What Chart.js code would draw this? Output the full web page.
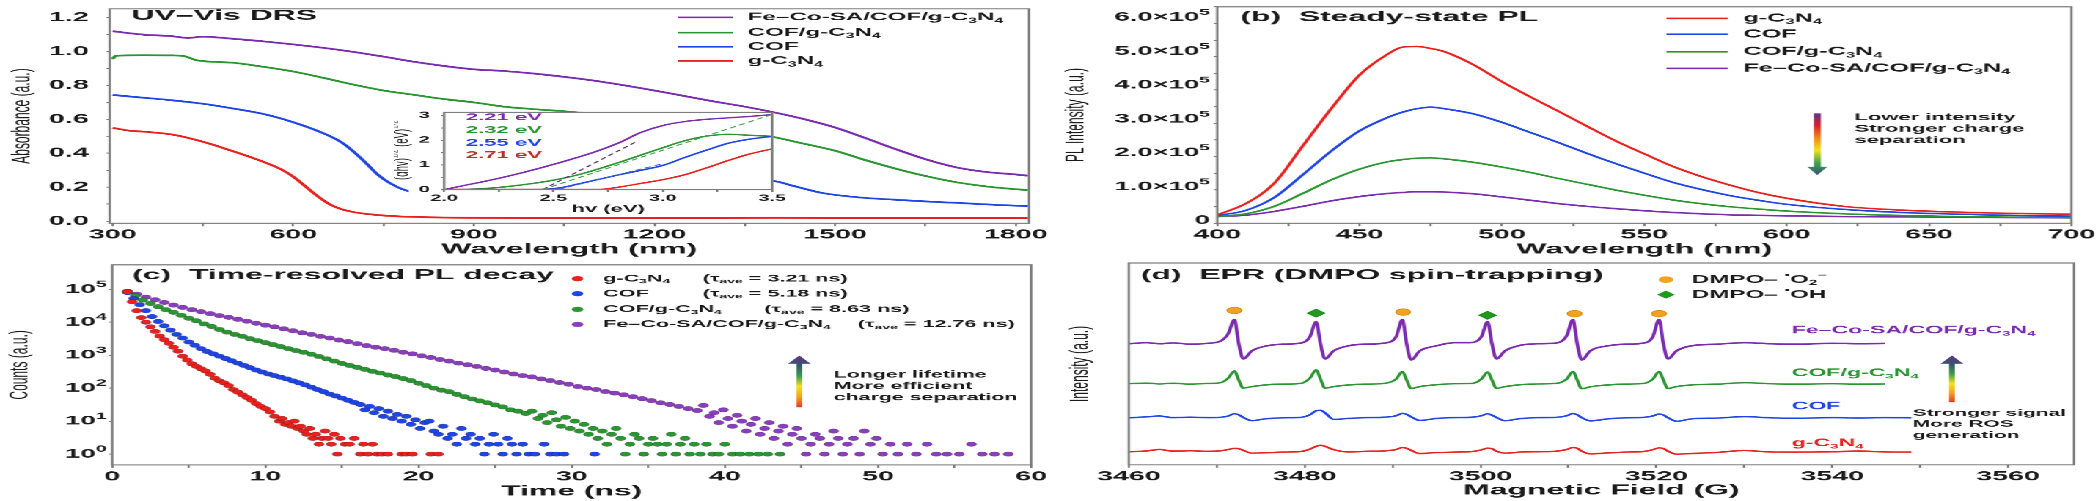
<!DOCTYPE html>
<html lang="en">
<head>
<meta charset="UTF-8">
<title>Fe-Co-SA/COF/g-C3N4 optical and EPR characterisation</title>
<script src="https://cdn.jsdelivr.net/npm/chart.js@4"></script>
<style>
  html, body { margin: 0; background: #fff; overflow: hidden; }
  /* the original figure is stretched horizontally, so draw narrow and stretch */
  #wrap { position: absolute; left: 0; top: 0; width: 955px; height: 501px; transform: scaleX(2.2); transform-origin: 0 0; }
  #wrap canvas { position: absolute; }
</style>
</head>
<body>
<div id="wrap">
  <canvas id="uvChart"></canvas>
  <canvas id="insetChart"></canvas>
  <canvas id="plChart"></canvas>
  <canvas id="trplChart"></canvas>
  <canvas id="eprChart"></canvas>
</div>
<script>
// ---- samples ----
const sampleNames = ['g-C_{3}N_{4}', 'COF', 'COF/g-C_{3}N_{4}', 'Fe–Co-SA/COF/g-C_{3}N_{4}'];
const tauAve = [3.21, 5.18, 8.63, 12.76];
const bandGaps = ['2.21', '2.32', '2.55', '2.71'];   // purple, green, blue, red

// ---- (a) UV-Vis DRS ----
const uvRedWl = [300,330,350,400,450,500,550,580,600,620,640,660,680,700,720,750,780,850,900,1000,1200,1400,1600,1820];
const uvRed = [0.55,0.532,0.528,0.51,0.468,0.412,0.35,0.305,0.262,0.205,0.148,0.1,0.07,0.053,0.043,0.033,0.027,0.021,0.019,0.018,0.018,0.019,0.018,0.018];
const uvBlueWl = [300,350,400,450,500,550,600,650,680,700,720,740,760,780,800,850,950,1050,1150,1250,1350,1395,1430,1480,1540,1600,1650,1700,1760,1820];
const uvBlue = [0.744,0.728,0.712,0.692,0.664,0.632,0.583,0.518,0.465,0.41,0.345,0.275,0.225,0.19,0.17,0.16,0.165,0.18,0.2,0.22,0.235,0.237,0.208,0.165,0.14,0.126,0.116,0.108,0.097,0.088];
const uvGreenWl = [300,305,350,400,420,440,500,550,600,650,700,750,800,850,900,950,1000,1050,1100,1200,1300,1395,1450,1500,1550,1600,1650,1700,1750,1800,1820];
const uvGreen = [0.955,0.975,0.978,0.977,0.972,0.948,0.934,0.91,0.882,0.845,0.805,0.77,0.745,0.72,0.70,0.675,0.66,0.648,0.632,0.6,0.56,0.498,0.455,0.415,0.36,0.31,0.266,0.23,0.205,0.188,0.183];
const uvPurpleWl = [300,350,400,425,450,500,550,600,650,700,750,800,850,900,950,1000,1100,1200,1300,1350,1400,1450,1500,1550,1600,1650,1700,1750,1800,1820];
const uvPurple = [1.12,1.10,1.09,1.08,1.088,1.075,1.06,1.042,1.022,0.998,0.97,0.94,0.915,0.895,0.885,0.87,0.828,0.77,0.705,0.675,0.64,0.60,0.552,0.49,0.425,0.365,0.318,0.29,0.275,0.268];

// inset: Tauc plot
const tcPurpleE = [2.0,2.1,2.2,2.3,2.4,2.5,2.6,2.7,2.8,2.9,3.0,3.1,3.2,3.3,3.4,3.5];
const tcPurple = [0,0.18,0.36,0.56,0.78,1.02,1.28,1.56,1.9,2.32,2.6,2.76,2.85,2.91,2.97,3.04];
const tcGreenE = [2.0,2.1,2.2,2.3,2.4,2.5,2.6,2.7,2.8,2.9,3.0,3.1,3.2,3.3,3.4,3.5];
const tcGreen = [0,0.01,0.05,0.13,0.24,0.38,0.57,0.82,1.1,1.4,1.7,1.98,2.17,2.24,2.2,2.16];
const tcBlueE = [2.0,2.3,2.45,2.55,2.6,2.7,2.8,2.9,3.0,3.1,3.2,3.3,3.4,3.5];
const tcBlue = [0,0,0.01,0.1,0.2,0.4,0.6,0.78,0.98,1.3,1.6,1.88,2.05,2.16];
const tcRedE = [2.0,2.7,2.8,2.9,3.0,3.1,3.2,3.3,3.4,3.5];
const tcRed = [0,0,0.1,0.25,0.4,0.6,0.88,1.18,1.45,1.65];
const tanPurpleE = [2.45, 2.88], tanPurple = [0, 1.95];
const tanGreenE = [2.45, 3.5], tanGreen = [0, 3.05];
const tanBlueE = [2.52, 3.0], tanBlue = [0, 1.05];

// ---- (b) steady-state PL ----
const plWl = [400,410,420,430,440,450,460,465,470,475,480,490,500,510,520,530,540,550,560,570,580,590,600,620,640,660,680,700];
const plRed = [0.17e5,0.5e5,1.1e5,2.2e5,3.3e5,4.3e5,4.92e5,5.12e5,5.14e5,5.08e5,4.98e5,4.6e5,4.1e5,3.65e5,3.22e5,2.78e5,2.35e5,1.97e5,1.6e5,1.3e5,1.05e5,0.83e5,0.66e5,0.42e5,0.31e5,0.25e5,0.21e5,0.19e5];
const plBlue = [0.15e5,0.3e5,0.68e5,1.35e5,2.05e5,2.65e5,3.05e5,3.2e5,3.3e5,3.35e5,3.3e5,3.15e5,2.9e5,2.6e5,2.3e5,1.98e5,1.68e5,1.4e5,1.13e5,0.92e5,0.74e5,0.6e5,0.48e5,0.33e5,0.24e5,0.19e5,0.15e5,0.13e5];
const plGreen = [0.12e5,0.2e5,0.42e5,0.8e5,1.2e5,1.52e5,1.74e5,1.8e5,1.84e5,1.85e5,1.82e5,1.72e5,1.58e5,1.42e5,1.24e5,1.07e5,0.9e5,0.75e5,0.61e5,0.5e5,0.41e5,0.34e5,0.28e5,0.2e5,0.15e5,0.12e5,0.1e5,0.09e5];
const plPurple = [0.12e5,0.16e5,0.27e5,0.42e5,0.58e5,0.71e5,0.8e5,0.83e5,0.85e5,0.85e5,0.84e5,0.79e5,0.7e5,0.6e5,0.5e5,0.42e5,0.35e5,0.29e5,0.24e5,0.2e5,0.17e5,0.155e5,0.14e5,0.12e5,0.11e5,0.1e5,0.09e5,0.08e5];
const plTickVals = [0, 1e5, 2e5, 3e5, 4e5, 5e5, 6e5];

// ---- (c) time-resolved PL decay ----
const trRedT = [1.0,1.3,1.6,1.9,2.2,2.5,2.8,3.1,3.4,3.7,4.0,4.3,4.6,4.9,5.2,5.5,5.8,6.1,6.4,6.7,7.0,7.3,7.6,7.9,8.2,8.5,8.8,9.1,9.4,9.7,10.0,10.3,
  10.6,10.9,11.1,11.3,11.5,11.7,11.9,12.1,12.3,12.5,12.7,12.9,13.1,13.3,13.5,13.7,13.9,14.1,14.3,14.5,14.7,14.9,15.2,15.5,15.8,16.2,16.4,16.7,17.0,17.3,17.6,18.0,18.9,19.2,19.6,20.8,21.3];
const trRedN = [83000,41700,22400,13800,10000,7240,5250,3800,2950,2290,1740,1320,930,710,550,457,389,331,263,200,166,145,120,91,76,63,52,43,34,28,24,19,
  14,10,12,8,9,7,10,6,7,5,4,6,3,4,2,3,5,3,2,4,1,3,2,2,3,1,2,1,2,1,1,1,1,1,1,1,1];
const trBlueT = [1.0,1.4,1.8,2.2,2.6,3.0,3.4,3.8,4.2,4.6,5.0,5.4,5.8,6.2,6.6,7.0,7.4,7.8,8.2,8.6,9.0,9.4,9.8,10.2,10.6,11.0,11.4,11.8,12.2,12.6,13.0,13.4,13.8,14.2,14.6,15.0,15.4,15.8,16.2,
  16.5,16.8,17.1,17.4,17.7,18.0,18.3,18.6,18.9,19.2,19.5,19.8,20.1,20.4,20.7,21.0,21.3,21.6,21.9,22.2,22.5,22.8,23.1,23.4,23.7,24.0,24.3,24.6,24.9,25.2,25.5,25.8,26.1,26.4,26.8,27.2,27.6,28.2,28.6,29.0,29.5,31.5];
const trBlueN = [79400,52500,33900,22400,14800,10500,7760,5750,4270,3310,2510,2000,1580,1290,1100,933,794,676,575,490,417,355,309,269,240,214,191,166,145,126,107,91,78,66,58,50,43,37,32,
  22,28,18,24,14,20,12,16,10,14,8,11,6,9,10,5,4,7,3,4,2,6,3,4,2,3,1,2,4,2,1,3,2,1,2,1,1,2,1,1,1,1];
const trGreenT = [1.0,1.5,2.0,2.5,3.0,3.5,4.0,4.5,5.0,5.5,6.0,6.5,7.0,7.5,8.0,8.5,9.0,9.5,10.0,10.5,11.0,11.5,12.0,12.5,13.0,13.5,14.0,14.5,15.0,15.5,16.0,16.5,17.0,17.5,18.0,18.5,19.0,19.5,20.0,20.5,21.0,21.5,22.0,22.5,23.0,23.5,24.0,24.5,25.0,25.5,26.0,26.5,27.0,
  27.4,27.8,28.1,28.4,28.7,29.0,29.3,29.6,29.9,30.2,30.5,30.8,31.1,31.4,31.7,32.0,32.3,32.6,32.9,33.2,33.5,33.8,34.1,34.4,34.7,35.0,35.3,35.6,35.9,36.2,36.5,36.8,37.1,37.4,37.7,38.0,38.4,38.8,39.2,39.6,40.0,40.5,41.0,41.6,42.2,42.8,43.6];
const trGreenN = [83200,63100,46800,37200,29500,24000,20000,16200,13200,11000,8910,7410,6030,5010,4270,3720,3160,2750,2400,2090,1820,1580,1380,1230,1070,912,776,661,562,490,427,372,324,288,251,224,195,170,141,120,100,87,78,65,55,47,41,36,31,27,22,20,17,
  20,12,15,9,18,11,7,13,6,10,5,8,4,6,3,5,2,4,6,3,1,2,4,3,1,2,3,2,1,2,4,1,2,3,1,2,1,2,1,1,2,1,1,1,1,1,1];
const trPurpleT = [1.0,1.6,2.2,2.8,3.4,4.0,4.6,5.2,5.8,6.4,7.0,7.6,8.2,8.8,9.4,10.0,10.6,11.2,11.8,12.4,13.0,13.6,14.2,14.8,15.4,16.0,16.6,17.2,17.8,18.4,19.0,19.6,20.2,20.8,21.4,22.0,22.6,23.2,23.8,24.4,25.0,25.6,26.2,26.8,27.4,28.0,28.6,29.2,29.8,30.4,31.0,31.6,32.2,32.8,33.4,34.0,34.6,35.2,35.8,36.4,37.0,37.6,38.2,
  38.6,39.0,39.3,39.6,39.9,40.2,40.5,40.8,41.1,41.4,41.7,42.0,42.3,42.6,42.9,43.2,43.5,43.8,44.1,44.4,44.7,45.0,45.3,45.6,45.9,46.2,46.5,46.8,47.1,47.4,47.7,48.0,48.4,48.8,49.1,49.5,49.9,50.3,50.8,51.3,51.9,52.5,53.2,53.8,54.5,55.3,56.1,56.8,57.6,58.5];
const trPurpleN = [87100,70800,57500,47900,39800,33100,28200,24000,20900,18200,15800,14100,12300,10700,9330,8130,7240,6310,5500,4790,4270,3720,3310,2880,2570,2240,1950,1740,1580,1410,1230,1100,955,851,741,661,575,513,457,398,355,309,269,240,219,191,170,148,132,112,100,91,79,71,63,55,48,42,36,32,28,24,21,
  30,14,18,9,22,12,7,15,10,5,8,12,4,6,9,3,5,7,2,4,6,3,1,2,4,3,1,2,5,3,1,2,3,1,5,2,3,1,2,1,2,1,2,1,1,1,2,1,1,1];
const trDecades = [0, 1, 2, 3, 4, 5];

// ---- (d) EPR, stacked spectra (offset intensity) ----
const eprField = [3460,3462,3463.5,3465,3467,3469,3470.5,3471.3,3472.0,3472.5,3473.0,3474.0,3475.5,3477.5,3479.5,3480.6,3481.3,3481.8,3482.3,3483.3,3485,3487,3489,3490.4,3491.1,3491.6,3492.1,3493.1,3495,3497,3499,3500.1,3500.8,3501.3,3501.8,3502.8,3504.5,3506.5,3508.5,3509.8,3510.5,3511.0,3511.5,3512.5,3514.5,3516.5,3518.5,3519.6,3520.3,3520.8,3521.3,3522.3,3524,3527,3530,3533,3536,3540,3543,3546,3549];
const eprPurple = [60,60.5,60,60.4,59.8,60.2,61.5,65,72,60,52.5,56.5,58.8,59.8,60.3,63.5,71,60,52.5,56.5,59,59.8,60.3,63.5,72,60,52,56.5,59,60.5,60.6,63.5,71,60,52.5,56.5,59.2,60,60.3,64,72,60,52,56.5,59,59.8,60.3,63.5,72,60,52.5,56.5,59,59.8,60.5,60,59.8,60.2,60,60.1,null];
const eprGreen = [40.2,40.5,40.1,40.4,40,40.3,40.8,43,46.5,42,38,38.8,39.6,40,40.3,43,47,42.5,38,38.8,39.6,40,40.3,42.5,46.2,42,37.8,38.8,39.7,40.2,40.3,42.5,46,42,37.9,38.8,39.7,40.1,40.3,42.5,46.3,42,37.7,38.7,39.6,40,40.3,42.5,46.2,42,37.8,38.8,39.6,40,40.7,40.2,40,40.2,40,40.1,null];
const eprBlue = [23.3,23.8,24.2,23.4,23.6,23.4,23.6,24.2,25.3,24.8,23.5,21.9,22.8,23.3,23.5,24.8,26.8,27.0,25.8,22.5,23.0,23.4,23.6,24.3,25.5,25.0,23.8,22.0,23.0,23.4,23.6,24.3,25.3,24.6,23.5,21.9,22.9,23.4,23.5,24.3,25.4,24.8,23.4,21.8,22.8,23.3,23.5,24.2,25.2,24.7,23.4,21.6,22.8,23.2,23.9,23.3,23.1,23.4,23.2,23.4,23.3];
const eprRed = [6.5,6.9,7.6,6.8,7.0,6.7,7.0,7.6,8.2,8.0,7.2,5.8,6.0,6.3,6.6,7.8,9.2,9.7,9.2,7.5,6.4,6.7,6.9,7.6,8.6,8.2,7.2,5.6,6.1,6.3,6.6,7.4,8.3,8.0,6.8,5.8,6.3,6.5,6.7,7.6,8.6,8.2,6.8,5.4,5.9,6.3,6.6,7.5,8.4,8.1,6.8,5.3,5.6,6.2,7.1,6.4,6.3,6.5,6.8,6.4,6.3];
const o2Field = [3472.0, 3491.2, 3510.7, 3520.3], o2Level = [76.5, 75.7, 74.9, 74.9];
const ohField = [3481.3, 3500.8], ohLevel = [75.2, 74.1];

// ---------- styling ----------
const S = 2.2;
const FONT = "'Liberation Sans', Arial, Helvetica, sans-serif";
const INK = '#1a1a1a';
const AXIS = '#7d7d7d';
const COL = { red: '#E8211E', blue: '#1F45E6', green: '#2A9632', purple: '#7B2BAF' };
const seriesColors = [COL.red, COL.blue, COL.green, COL.purple];

function pts(xs, ys) { return xs.map((x, i) => ({ x: x, y: ys[i] })); }

function line(xs, ys, color, w, extra) {
  return Object.assign({ data: pts(xs, ys), borderColor: color, backgroundColor: color, borderWidth: w,
    pointRadius: 0, fill: false, cubicInterpolationMode: 'monotone' }, extra || {});
}

function dots(xs, ys, color) {
  return { data: pts(xs, ys), backgroundColor: color, borderColor: 'rgba(0,0,0,0.25)', borderWidth: 0.5, pointRadius: 2.3 };
}

// plot box in page pixels -> canvas placed in the narrow (unstretched) frame
function place(id, b) {
  const cv = document.getElementById(id);
  const mt = b.mt || 12, mr = b.mr || 28;
  const top = b.T - mt;
  cv.width = Math.round((b.R + mr - b.x0) / S);
  cv.height = Math.round(b.y1 - top);
  cv.style.left = (b.x0 / S) + 'px';
  cv.style.top = top + 'px';
  return { cv: cv, ox: b.x0 / S, oy: top, yw: (b.L - b.x0) / S, xh: cv.height - (b.B - top),
    pad: { top: mt, right: cv.width - (b.R - b.x0) / S, left: 0, bottom: 0 } };
}

function xAxis(g, o) {
  return {
    type: 'linear', min: o.min, max: o.max,
    afterFit: s => { s.height = g.xh; },
    border: { display: false },
    grid: { drawOnChartArea: false, drawTicks: true, tickLength: o.tl || 3, color: AXIS },
    ticks: { stepSize: o.step, maxTicksLimit: 1000, autoSkip: false, includeBounds: false, maxRotation: 0, padding: 1,
      color: INK, font: { family: FONT, size: o.size || 13, weight: 'bold' }, callback: o.label },
    title: { display: true, text: o.title, padding: 0, color: INK, font: { family: FONT, size: o.tsize || 14.5, weight: 'bold' } }
  };
}

function yAxis(g, o) {
  return {
    type: o.type || 'linear', min: o.min, max: o.max,
    afterFit: s => { s.width = g.yw; },
    border: { display: false },
    grid: { display: o.grid !== false, drawOnChartArea: false, drawTicks: true, tickLength: 1.5, color: AXIS, tickColor: o.tickColor || AXIS },
    ticks: { display: o.ticks !== false, stepSize: o.step, maxTicksLimit: 1000, autoSkip: false, includeBounds: false, padding: o.pad || 6,
      color: INK, font: { family: FONT, size: o.size || 13, weight: 'bold' }, callback: o.label },
    title: { display: !!o.title, text: o.title, padding: 0, color: INK, font: { family: FONT, size: o.tsize || 12, weight: 'normal' } }
  };
}

function base(g, scales) {
  return {
    responsive: false, animation: false, devicePixelRatio: S, events: [],
    layout: { padding: g.pad },
    plugins: { legend: { display: false }, tooltip: { enabled: false } },
    scales: scales
  };
}

// text with _{sub} and ^{sup}
function rich(ctx, str, x, y, o) {
  const size = o.size, wt = o.weight || 'bold';
  const parts = [];
  str.replace(/([_^])\{([^}]*)\}|([^_^]+|[_^])/g, (m, k, inner, plain) => {
    parts.push(k ? { t: inner, m: k === '_' ? -1 : 1 } : { t: plain, m: 0 });
    return m;
  });
  let total = 0;
  parts.forEach(p => {
    p.s = p.m ? size * (o.scr || 0.65) : size;
    ctx.font = wt + ' ' + p.s + 'px ' + FONT;
    p.w = ctx.measureText(p.t).width;
    total += p.w;
  });
  ctx.save();
  ctx.translate(x, y);
  if (o.rot) ctx.rotate(o.rot);
  let cx = o.align === 'right' ? -total : o.align === 'center' ? -total / 2 : 0;
  ctx.fillStyle = o.color || INK;
  ctx.textBaseline = 'middle';
  ctx.textAlign = 'left';
  parts.forEach(p => {
    ctx.font = wt + ' ' + p.s + 'px ' + FONT;
    const dy = p.m < 0 ? size * 0.32 : p.m > 0 ? -size * 0.38 : 0;
    ctx.fillText(p.t, cx, dy);
    cx += p.w;
  });
  ctx.restore();
}

function gradArrow(ctx, x, yTail, yTip, shaftW, headW, headH, stops) {
  const g = ctx.createLinearGradient(0, yTail, 0, yTip);
  stops.forEach((c, i) => g.addColorStop(i / (stops.length - 1), c));
  const yb = yTip - Math.sign(yTip - yTail) * headH;
  ctx.fillStyle = g;
  ctx.beginPath();
  ctx.moveTo(x - shaftW / 2, yTail);
  ctx.lineTo(x + shaftW / 2, yTail);
  ctx.lineTo(x + shaftW / 2, yb);
  ctx.lineTo(x + headW / 2, yb);
  ctx.lineTo(x, yTip);
  ctx.lineTo(x - headW / 2, yb);
  ctx.lineTo(x - shaftW / 2, yb);
  ctx.closePath();
  ctx.fill();
}

const frame = {
  id: 'frame',
  afterDatasetsDraw(chart) {
    const { ctx, chartArea: a } = chart;
    ctx.save();
    ctx.strokeStyle = AXIS;
    ctx.lineWidth = 1.1;
    ctx.strokeRect(a.left, a.top, a.right - a.left, a.bottom - a.top);
    ctx.restore();
  }
};

// annotations placed in page pixels
function notes(g, fn) {
  return { id: 'notes', afterDraw(chart) {
    const ctx = chart.ctx;
    ctx.save();
    fn(ctx, (fx, fy) => [fx / S - g.ox, fy - g.oy], chart);
    ctx.restore();
  } };
}

function legendLine(ctx, P, x1, x2, y, color) {
  const a = P(x1, y), b = P(x2, y);
  ctx.strokeStyle = color; ctx.lineWidth = 1.6;
  ctx.beginPath(); ctx.moveTo(a[0], a[1]); ctx.lineTo(b[0], b[1]); ctx.stroke();
}

const upStops = ['#E8381C', '#F5A21C', '#F2E21E', '#3E9E4A', '#2F5C6A', '#6A2C8E'];
const downStops = ['#6A2C8E', '#D8232A', '#F08A1C', '#F4E01E', '#3FA648', '#35527A'];

// ================= (a) UV-Vis DRS =================
const gA = place('uvChart', { L: 110, T: 5, R: 1029, B: 223.3, x0: 7, y1: 258 });
new Chart(gA.cv, {
  type: 'line',
  data: { datasets: [
    line(uvRedWl, uvRed, COL.red, 1.8),
    line(uvBlueWl, uvBlue, COL.blue, 1.8),
    line(uvGreenWl, uvGreen, COL.green, 1.8),
    line(uvPurpleWl, uvPurple, COL.purple, 1.8)
  ] },
  options: base(gA, {
    x: xAxis(gA, { min: 295, max: 1822, step: 150, label: v => (v % 300 === 0 ? String(v) : ''), title: 'Wavelength (nm)' }),
    y: yAxis(gA, { min: -0.013, max: 1.252, step: 0.1, pad: 8,
      label: v => (Math.round(v * 10) % 2 === 0 ? v.toFixed(1) : ''), title: 'Absorbance (a.u.)' })
  }),
  plugins: [frame, notes(gA, (ctx, P) => {
    let p = P(131.7, 16);
    rich(ctx, 'UV–Vis DRS', p[0], p[1], { size: 14.5 });
    const rows = [17.3, 32.7, 46.7, 61];
    [3, 2, 1, 0].forEach((k, i) => {
      legendLine(ctx, P, 678, 733, rows[i], seriesColors[k]);
      const t = P(747.7, rows[i]);
      rich(ctx, sampleNames[k], t[0], t[1], { size: 11 });
    });
  })]
});

// inset Tauc plot
const gI = place('insetChart', { L: 443.3, T: 110, R: 771, B: 189.3, x0: 393, y1: 215, mt: 8, mr: 22 });
const insetBg = {
  id: 'insetBg',
  beforeDraw(chart) {
    const { ctx, chartArea: a } = chart;
    const x = 408 / S - gI.ox;
    ctx.save();
    ctx.fillStyle = '#fff';
    ctx.fillRect(x, a.top, a.right + 0.6 - x, chart.height - a.top);
    ctx.restore();
  }
};
new Chart(gI.cv, {
  type: 'line',
  data: { datasets: [
    line(tanGreenE, tanGreen, '#3FA24A', 0.9, { borderDash: [3, 2] }),
    line(tanPurpleE, tanPurple, '#5E3470', 0.9, { borderDash: [3, 2] }),
    line(tanBlueE, tanBlue, '#3F63E8', 0.9, { borderDash: [3, 2] }),
    line(tcRedE, tcRed, COL.red, 1.4),
    line(tcBlueE, tcBlue, COL.blue, 1.4),
    line(tcGreenE, tcGreen, COL.green, 1.4),
    line(tcPurpleE, tcPurple, COL.purple, 1.4)
  ] },
  options: base(gI, {
    x: xAxis(gI, { min: 2, max: 3.5, step: 0.25, size: 9, tsize: 10, tl: 2.5,
      label: v => (Math.abs(v * 2 - Math.round(v * 2)) < 1e-6 ? v.toFixed(1) : ''), title: 'hv (eV)' }),
    y: yAxis(gI, { min: 0, max: 3.13, step: 0.5, size: 9, pad: 5,
      label: v => (Math.abs(v - Math.round(v)) < 1e-6 ? String(Math.round(v)) : '') })
  }),
  plugins: [insetBg, frame, notes(gI, (ctx, P) => {
    const cols = [COL.purple, COL.green, COL.blue, '#B83228'];
    const rows = [117.3, 130, 142.7, 155];
    bandGaps.forEach((bg, i) => {
      const t = P(465, rows[i]);
      rich(ctx, bg + ' eV', t[0], t[1], { size: 10, color: cols[i] });
    });
    const p = P(401.7, 150);
    rich(ctx, '(αhv)^{1/2} (eV)^{1/2}', p[0], p[1], { size: 9.5, weight: 'normal', align: 'center', rot: -Math.PI / 2 });
  })]
});

// ================= (b) steady-state PL =================
const gB = place('plChart', { L: 1217.8, T: 5, R: 2072, B: 223.3, x0: 1061, y1: 258, mr: 34 });
new Chart(gB.cv, {
  type: 'line',
  data: { datasets: [
    line(plWl, plRed, COL.red, 1.6),
    line(plWl, plBlue, COL.blue, 1.6),
    line(plWl, plGreen, COL.green, 1.6),
    line(plWl, plPurple, COL.purple, 1.6)
  ] },
  options: base(gB, {
    x: xAxis(gB, { min: 400, max: 700, step: 25, label: v => (v % 50 === 0 ? String(v) : ''), title: 'Wavelength (nm)' }),
    y: yAxis(gB, { min: -0.08e5, max: 6.31e5, step: 0.5e5, label: () => '', title: 'PL Intensity (a.u.)' })
  }),
  plugins: [frame, notes(gB, (ctx, P, chart) => {
    const ys = chart.scales.y, left = chart.chartArea.left;
    plTickVals.forEach(v => {
      const txt = v === 0 ? '0' : (v / 1e5).toFixed(1) + '×10^{5}';
      rich(ctx, txt, left - 3.3, ys.getPixelForValue(v), { size: 12.5, align: 'right', scr: 0.7 });
    });
    let p = P(1241, 17.3);
    rich(ctx, '(b)  Steady-state PL', p[0], p[1], { size: 14.5 });
    const rows = [18.3, 34.3, 51.7, 68.3];
    [0, 1, 2, 3].forEach((k, i) => {
      legendLine(ctx, P, 1667, 1728.6, rows[i], seriesColors[k]);
      const t = P(1743.9, rows[i]);
      rich(ctx, sampleNames[k], t[0], t[1], { size: 11.5 });
    });
    const top = P(1817.9, 113.3), tip = P(1817.9, 175);
    gradArrow(ctx, top[0], top[1], tip[1], 3.2, 9.1, 8.3, downStops);
    ['Lower intensity', 'Stronger charge', 'separation'].forEach((s, i) => {
      const t = P(1855, [117.3, 129, 140.3][i]);
      rich(ctx, s, t[0], t[1], { size: 10 });
    });
  })]
});

// ================= (c) time-resolved PL =================
const gC = place('trplChart', { L: 111.7, T: 262.7, R: 1030, B: 464.3, x0: 4, y1: 499.7 });
const isDecade = v => { const e = Math.log10(v); return Math.abs(e - Math.round(e)) < 1e-9; };
new Chart(gC.cv, {
  type: 'scatter',
  data: { datasets: [
    dots(trRedT, trRedN, COL.red),
    dots(trBlueT, trBlueN, COL.blue),
    dots(trGreenT, trGreenN, COL.green),
    dots(trPurpleT, trPurpleN, '#8A3DBC')
  ] },
  options: base(gC, {
    x: xAxis(gC, { min: 0, max: 60, step: 5, label: v => (v % 10 === 0 ? String(v) : ''), title: 'Time (ns)' }),
    y: yAxis(gC, { type: 'logarithmic', min: 0.47, max: 5.5e5, label: () => '', title: 'Counts (a.u.)',
      tickColor: c => (c.tick && isDecade(c.tick.value) ? AXIS : 'rgba(0,0,0,0)') })
  }),
  plugins: [frame, notes(gC, (ctx, P, chart) => {
    const ys = chart.scales.y, left = chart.chartArea.left;
    trDecades.forEach(e => {
      rich(ctx, '10^{' + e + '}', left - 2.5, ys.getPixelForValue(Math.pow(10, e)), { size: 12.5, align: 'right', scr: 0.72 });
    });
    let p = P(131.7, 275);
    rich(ctx, '(c)  Time-resolved PL decay', p[0], p[1], { size: 14.5 });
    const rows = [278.3, 293.3, 309, 324];
    const tauX = [701.7, 701.7, 763.3, 856.7];
    const dotCols = [COL.red, COL.blue, COL.green, '#8A3DBC'];
    rows.forEach((y, k) => {
      const d = P(576.7, y);
      ctx.fillStyle = dotCols[k];
      ctx.beginPath(); ctx.arc(d[0], d[1], 2.6, 0, Math.PI * 2); ctx.fill();
      const t = P(602.3, y);
      rich(ctx, sampleNames[k], t[0], t[1], { size: 9.8 });
      const u = P(tauX[k], y);
      rich(ctx, '(τ_{ave} = ' + tauAve[k].toFixed(2) + ' ns)', u[0], u[1], { size: 9.8 });
    });
    const tail = P(798.3, 406.7), tip = P(798.3, 355);
    gradArrow(ctx, tail[0], tail[1], tip[1], 2.6, 10.3, 8.3, upStops);
    ['Longer lifetime', 'More efficient', 'charge separation'].forEach((s, i) => {
      const t = P(832.7, [374.3, 385.7, 397][i]);
      rich(ctx, s, t[0], t[1], { size: 9.7 });
    });
  })]
});

// ================= (d) EPR =================
const gD = place('eprChart', { L: 1128, T: 262.7, R: 2073, B: 464.3, x0: 1064, y1: 498.7 });
new Chart(gD.cv, {
  type: 'line',
  data: { datasets: [
    line(eprField, eprRed, COL.red, 1.5),
    line(eprField, eprBlue, COL.blue, 1.5),
    line(eprField, eprGreen, COL.green, 1.5),
    line(eprField, eprPurple, COL.purple, 1.6),
    { data: pts(o2Field, o2Level), showLine: false, pointStyle: 'circle', pointRadius: 3.3,
      backgroundColor: '#F2A21E', borderColor: '#D88A12', borderWidth: 0.6 },
    { data: pts(ohField, ohLevel), showLine: false, pointStyle: 'rectRot', pointRadius: 4,
      backgroundColor: '#1E9A1E', borderColor: '#178017', borderWidth: 0.6 }
  ] },
  options: base(gD, {
    x: xAxis(gD, { min: 3460, max: 3567.5, step: 10, label: v => (v % 20 === 0 ? String(v) : ''), title: 'Magnetic Field (G)' }),
    y: yAxis(gD, { min: 0, max: 100, grid: false, ticks: false, title: 'Intensity (a.u.)' })
  }),
  plugins: [frame, notes(gD, (ctx, P) => {
    let p = P(1140, 275);
    rich(ctx, '(d)  EPR (DMPO spin-trapping)', p[0], p[1], { size: 14.5 });
    const m1 = P(1665, 279.3), m2 = P(1665, 294.3);
    ctx.fillStyle = '#F2A21E';
    ctx.beginPath(); ctx.arc(m1[0], m1[1], 3.3, 0, Math.PI * 2); ctx.fill();
    ctx.fillStyle = '#1E9A1E';
    ctx.beginPath();
    ctx.moveTo(m2[0], m2[1] - 4); ctx.lineTo(m2[0] + 4, m2[1]); ctx.lineTo(m2[0], m2[1] + 4); ctx.lineTo(m2[0] - 4, m2[1]);
    ctx.closePath(); ctx.fill();
    let t = P(1690.7, 279.3);
    rich(ctx, 'DMPO– ^{•}O_{2}^{−}', t[0], t[1], { size: 11 });
    t = P(1690.7, 294.3);
    rich(ctx, 'DMPO– ^{•}OH', t[0], t[1], { size: 11 });
    const rows = [442.7, 406, 372.7, 330];
    rows.forEach((y, k) => {
      const q = P(1790.7, y);
      rich(ctx, sampleNames[k], q[0], q[1], { size: 10.5, color: seriesColors[k] });
    });
    const tail = P(1951, 401.7), tip = P(1951, 355);
    gradArrow(ctx, tail[0], tail[1], tip[1], 2.6, 10.3, 8.3, upStops);
    ['Stronger signal', 'More ROS', 'generation'].forEach((s, i) => {
      const q = P(1911.7, [412.7, 423.7, 435][i]);
      rich(ctx, s, q[0], q[1], { size: 9.5 });
    });
  })]
});
</script>
</body>
</html>
